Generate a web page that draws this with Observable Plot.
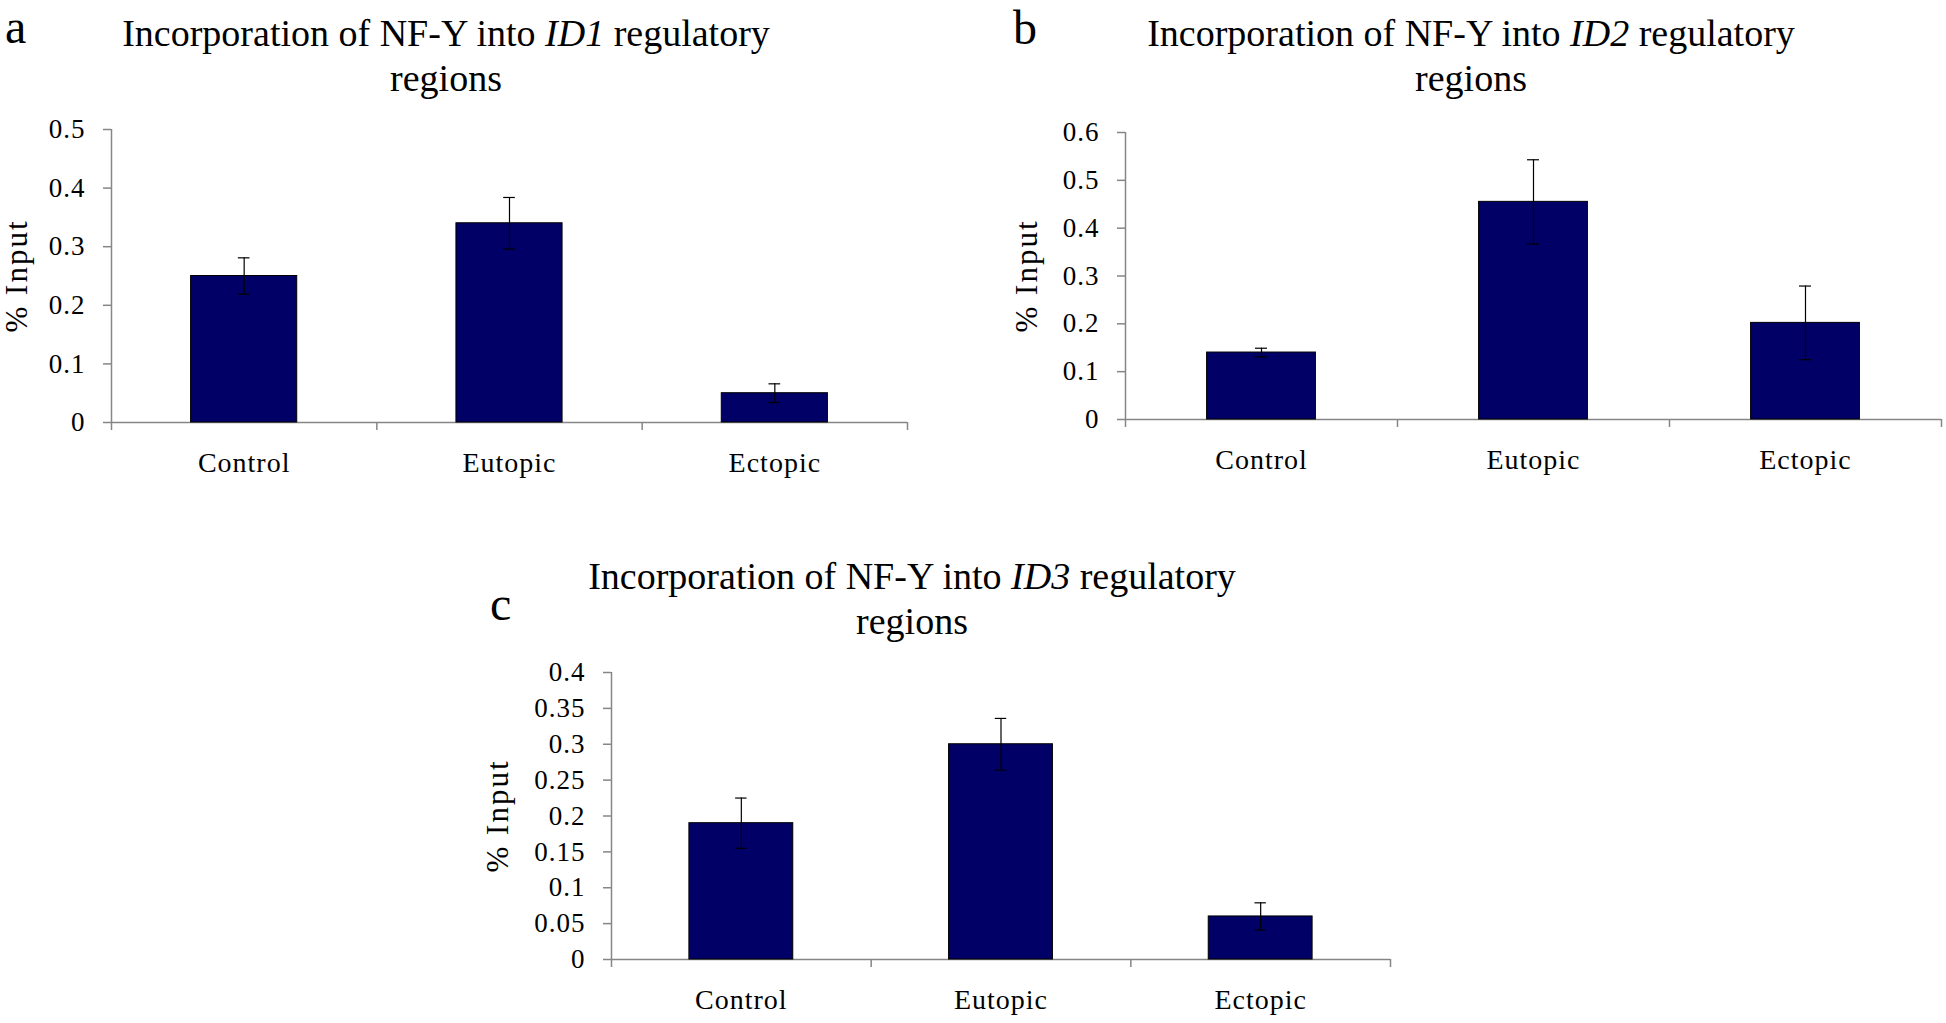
<!DOCTYPE html>
<html><head><meta charset="utf-8">
<script src="https://cdn.jsdelivr.net/npm/d3@7"></script>
<script src="https://cdn.jsdelivr.net/npm/@observablehq/plot@0.6"></script>
<style>
html,body{margin:0;padding:0;background:#fff;}
body{width:1946px;height:1023px;position:relative;overflow:hidden;font-family:"Liberation Serif","Times New Roman",serif;color:#000;}
.title{position:absolute;width:1000px;text-align:center;font-size:38px;line-height:45px;white-space:nowrap;}
.panel{position:absolute;font-size:48px;}
.ylab{position:absolute;font-size:31px;line-height:1;white-space:nowrap;transform:translate(-50%,-50%) rotate(-90deg);letter-spacing:2px;}
.chart{position:absolute;}
.chart svg text{letter-spacing:1px;}
</style></head><body>
<script>
// ---- data ----
const categories = ["Control", "Eutopic", "Ectopic"];
const id1Values = [0.25, 0.34, 0.05];
const id1Errors = [0.031, 0.044, 0.016];
const id2Values = [0.14, 0.455, 0.202];
const id2Errors = [0.009, 0.088, 0.077];
const id3Values = [0.19, 0.30, 0.06];
const id3Errors = [0.035, 0.036, 0.019];
const id1Ticks = [0, 0.1, 0.2, 0.3, 0.4, 0.5];
const id2Ticks = [0, 0.1, 0.2, 0.3, 0.4, 0.5, 0.6];
const id3Ticks = [0, 0.05, 0.1, 0.15, 0.2, 0.25, 0.3, 0.35, 0.4];
const panelLetters = ["a", "b", "c"];
const genes = ["ID1", "ID2", "ID3"];
const yLabel = "% Input";

// ---- style ----
const barFill = "#000066";
const axisGray = "#868686";
const capHalf = 0.022;

function chart(values, errors, ticks, layout) {
  const n = categories.length;
  const rows = categories.map((c, i) => ({i, category: c, value: values[i], err: errors[i]}));
  return Plot.plot({
    width: layout.width, height: layout.height,
    marginLeft: layout.ml, marginRight: layout.mr, marginTop: layout.mt, marginBottom: layout.mb,
    style: {fontFamily: "Liberation Serif, Times New Roman, serif", fontSize: "27px", color: "#000", background: "transparent", overflow: "visible"},
    x: {type: "linear", domain: [0, n], axis: null},
    y: {domain: [0, d3.max(ticks)], axis: null},
    marks: [
      Plot.ruleX([0], {stroke: axisGray, strokeWidth: 1.5}),
      Plot.ruleY([0], {stroke: axisGray, strokeWidth: 1.5}),
      Plot.axisY(ticks, {label: null, tickSize: 8, tickPadding: 18, stroke: axisGray, fill: "#000", strokeWidth: 1.5, tickFormat: d => String(d), fontSize: 27}),
      Plot.axisX(d3.range(n + 1), {label: null, tickSize: 8, tickFormat: () => "", stroke: axisGray, strokeWidth: 1.5}),
      Plot.axisX(d3.range(n).map(i => i + 0.5), {label: null, tickSize: 0, tickPadding: 30, fill: "#000", tickFormat: v => categories[Math.floor(v)], fontSize: 28}),
      Plot.rectY(rows, {x1: d => d.i + 0.3, x2: d => d.i + 0.7, y1: 0, y2: "value", fill: barFill, stroke: "#000", strokeWidth: 1}),
      Plot.ruleX(rows, {x: d => d.i + 0.5, y1: d => d.value - d.err, y2: d => d.value + d.err, stroke: "#000", strokeWidth: 1.2}),
      Plot.ruleY(rows, {y: d => d.value + d.err, x1: d => d.i + 0.5 - capHalf, x2: d => d.i + 0.5 + capHalf, stroke: "#000", strokeWidth: 1.2}),
      Plot.ruleY(rows, {y: d => d.value - d.err, x1: d => d.i + 0.5 - capHalf, x2: d => d.i + 0.5 + capHalf, stroke: "#000", strokeWidth: 1.2})
    ]
  });
}

const panels = [
  {values: id1Values, errors: id1Errors, ticks: id1Ticks, left: 0, top: 0,
   layout: {width: 920, height: 500, ml: 111, mr: 13, mt: 129, mb: 78},
   title: {cx: 446, top: 11}, letter: {left: 5, top: 0, lh: 54}, ylab: {cx: 16, cy: 276}},
  {values: id2Values, errors: id2Errors, ticks: id2Ticks, left: 1000, top: 0,
   layout: {width: 946, height: 500, ml: 125, mr: 5, mt: 132, mb: 81},
   title: {cx: 1471, top: 11}, letter: {left: 1013, top: 0, lh: 56}, ylab: {cx: 1026, cy: 276}},
  {values: id3Values, errors: id3Errors, ticks: id3Ticks, left: 480, top: 540,
   layout: {width: 920, height: 483, ml: 131, mr: 10, mt: 132, mb: 64},
   title: {cx: 912, top: 554}, letter: {left: 490, top: 577, lh: 54}, ylab: {cx: 497, cy: 816}}
];

panels.forEach((p, k) => {
  const wrap = document.createElement("div");
  wrap.className = "chart";
  wrap.style.left = p.left + "px";
  wrap.style.top = p.top + "px";
  wrap.appendChild(chart(p.values, p.errors, p.ticks, p.layout));
  document.body.appendChild(wrap);

  const t = document.createElement("div");
  t.className = "title";
  t.style.left = (p.title.cx - 500) + "px";
  t.style.top = p.title.top + "px";
  t.innerHTML = "Incorporation of NF-Y into <i>" + genes[k] + "</i> regulatory<br>regions";
  document.body.appendChild(t);

  const l = document.createElement("div");
  l.className = "panel";
  l.style.left = p.letter.left + "px";
  l.style.top = p.letter.top + "px";
  l.style.lineHeight = p.letter.lh + "px";
  l.textContent = panelLetters[k];
  document.body.appendChild(l);

  const y = document.createElement("div");
  y.className = "ylab";
  y.style.left = p.ylab.cx + "px";
  y.style.top = p.ylab.cy + "px";
  y.textContent = yLabel;
  document.body.appendChild(y);
});
</script>
</body></html>
